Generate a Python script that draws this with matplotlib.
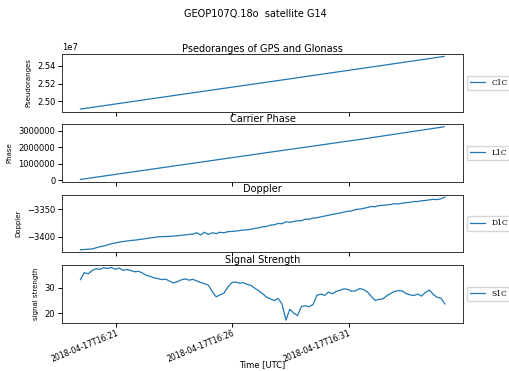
import numpy as np
import pandas as pd
import matplotlib
matplotlib.use("Agg")
import matplotlib.pyplot as plt
import matplotlib.dates as mdates
from matplotlib.ticker import MultipleLocator

# observation window of satellite G14
t0 = pd.Timestamp("2018-04-17 16:19:28")

# pseudorange C1C (m), sparse epochs (seconds after t0)
pr_sec = [0, 240, 480, 720, 938]
pr_c1c = [2.4915e7, 2.5066e7, 2.5216e7, 2.5367e7, 2.5505e7]

# carrier phase L1C (cycles)
ph_sec = [0, 240, 480, 720, 938]
ph_l1c = [0.05e6, 0.86e6, 1.67e6, 2.47e6, 3.24e6]

# doppler D1C (Hz), 10 s epochs
dop_d1c = [
    -3424, -3423.5, -3423, -3422.5, -3420.5, -3418.5, -3417, -3415, -3413, -3411.5,
    -3410, -3409, -3408, -3407, -3406.5, -3405.5, -3404.5, -3403.5, -3402.5, -3401.5,
    -3400.5, -3400, -3399.8, -3399.5, -3399, -3398.5, -3397.5, -3397, -3396, -3395.5,
    -3393, -3397, -3392, -3396, -3393, -3394.5, -3392, -3393, -3391, -3390.5,
    -3390, -3389, -3388, -3387.5, -3386.5, -3385, -3384, -3382, -3381.5, -3379,
    -3378.5, -3376, -3376.5, -3373, -3374, -3372.5, -3371, -3371, -3368, -3368.5,
    -3366, -3365.5, -3364, -3362.5, -3361, -3359.5, -3358, -3357, -3355, -3354,
    -3353, -3350.5, -3350, -3348.5, -3347, -3345, -3345.5, -3343.5, -3343, -3342,
    -3341.5, -3340, -3340.5, -3339, -3338, -3337.5, -3336, -3336, -3334.5, -3334,
    -3333, -3332, -3332.5, -3331, -3328,
]

# signal strength S1C (dB-Hz), 10 s epochs
snr_s1c = [
    33.2, 36.0, 35.5, 36.8, 37.5, 37.3, 37.9, 37.6, 38.0, 37.3,
    37.8, 36.9, 37.2, 36.8, 36.3, 36.5, 35.8, 34.9, 34.5, 33.9,
    33.6, 33.2, 33.4, 32.6, 31.9, 32.4, 33.1, 33.5, 33.0, 33.3,
    32.7, 32.1, 31.6, 31.0, 28.5, 26.4, 27.2, 27.8, 30.2, 32.0,
    32.3, 31.8, 32.0, 31.3, 30.9, 29.8, 28.8, 27.6, 26.3, 25.6,
    24.9, 25.8, 23.5, 17.2, 21.5, 20.0, 19.0, 22.6, 22.9, 22.5,
    23.4, 27.0, 27.5, 27.0, 28.3, 27.6, 28.6, 29.0, 29.6, 29.3,
    28.6, 28.8, 29.7, 29.3, 28.4, 26.6, 25.0, 25.4, 25.6, 26.8,
    27.7, 28.5, 28.9, 28.7, 27.7, 27.2, 26.9, 27.5, 26.7, 28.2,
    29.1, 27.4, 26.2, 25.9, 23.6,
]

t_pr = t0 + pd.to_timedelta(pr_sec, unit="s")
t_ph = t0 + pd.to_timedelta(ph_sec, unit="s")
t_dop = pd.date_range(t0, periods=len(dop_d1c), freq="10s")
t_snr = pd.date_range(t0, periods=len(snr_s1c), freq="10s")

plt.rcParams["font.size"] = 6
plt.rcParams["axes.linewidth"] = 0.7
plt.rcParams["axes.edgecolor"] = "#333333"
plt.rcParams["xtick.major.width"] = 0.7
plt.rcParams["ytick.major.width"] = 0.7
plt.rcParams["xtick.major.size"] = 3
plt.rcParams["ytick.major.size"] = 3

fig, axes = plt.subplots(4, 1, sharex=True, figsize=(5.1, 3.71), dpi=100)
fig.subplots_adjust(left=0.122, right=0.908, top=0.855, bottom=0.13, hspace=0.215)
fig.suptitle("GEOP107Q.18o  satellite G14", y=0.975, fontsize=7)

panels = [
    (t_pr, pr_c1c, "C1C", "Psedoranges of GPS and Glonass", "Pseudoranges"),
    (t_ph, ph_l1c, "L1C", "Carrier Phase", "Phase"),
    (t_dop, dop_d1c, "D1C", "Doppler", "Doppler"),
    (t_snr, snr_s1c, "S1C", "Signal Strength", "signal strength"),
]

for ax, (t, y, lab, title, ylab) in zip(axes, panels):
    ax.plot(t, y, color="C0", linewidth=0.9, label=lab)
    ax.set_title(title, fontsize=7, pad=1.5)
    ax.set_ylabel(ylab, fontsize=5)
    ax.legend(loc="center left", bbox_to_anchor=(1.0, 0.5),
              prop={"family": "DejaVu Serif", "size": 5.5})
    ax.tick_params(labelsize=6, pad=2)

axes[0].yaxis.set_major_locator(MultipleLocator(0.02e7))
axes[0].yaxis.get_offset_text().set_fontsize(6)
axes[1].yaxis.set_major_locator(MultipleLocator(1e6))
axes[1].ticklabel_format(axis="y", style="plain")
axes[2].yaxis.set_major_locator(MultipleLocator(50))
axes[3].yaxis.set_major_locator(MultipleLocator(10))

axes[3].xaxis.set_major_locator(mdates.MinuteLocator(byminute=range(1, 60, 5)))
axes[3].xaxis.set_major_formatter(mdates.DateFormatter("%Y-%m-%dT%H:%M"))
axes[3].tick_params(axis="x", labelsize=5.6, pad=1.5)
for lbl in axes[3].get_xticklabels():
    lbl.set_rotation(22)
    lbl.set_ha("right")
    lbl.set_rotation_mode("anchor")
axes[3].set_xlabel("Time [UTC]", fontsize=6)
axes[3].xaxis.set_label_coords(0.5, -0.73)
axes[3].xaxis.label.set_va("center")

fig.savefig("out.png", dpi=100)
